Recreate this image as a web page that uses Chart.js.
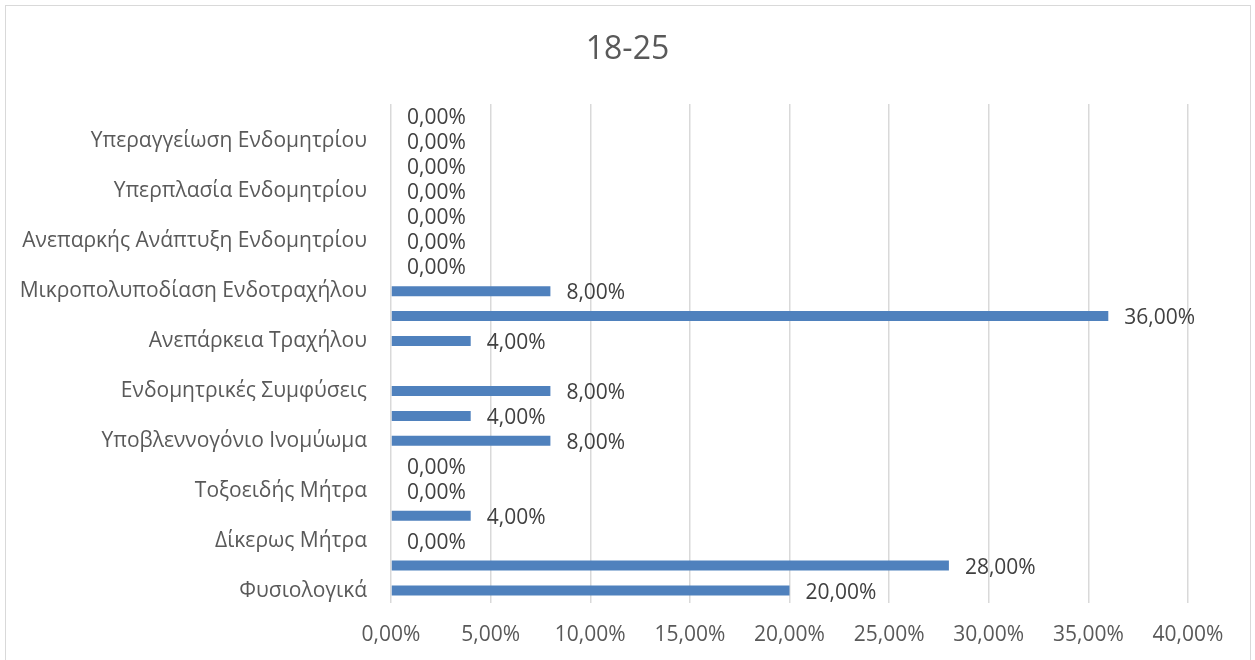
<!DOCTYPE html>
<html>
<head>
<meta charset="utf-8">
<script src="https://cdn.jsdelivr.net/npm/chart.js@4.4.1/dist/chart.umd.min.js"></script>
<style>
    html, body { margin: 0; padding: 0; background: #fff; }
    #wrap { position: relative; width: 1255px; height: 660px; }
    #frame {
        position: absolute; left: 5px; top: 5px; width: 1246px; height: 660px;
        border: 1px solid #d9d9d9; box-sizing: border-box;
    }
    canvas { position: absolute; left: 0; top: 0; }
</style>
</head>
<body>
<div id="wrap">
    <div id="frame"></div>
    <canvas id="chart" width="1255" height="660"></canvas>
</div>
<script>
// categories top -> bottom (Excel skipped every other label, so those stay blank)
const categories = [
    "",
    "Υπεραγγείωση Ενδομητρίου",
    "",
    "Υπερπλασία Ενδομητρίου",
    "",
    "Ανεπαρκής Ανάπτυξη Ενδομητρίου",
    "",
    "Μικροπολυποδίαση Ενδοτραχήλου",
    "",
    "Ανεπάρκεια Τραχήλου",
    "",
    "Ενδομητρικές Συμφύσεις",
    "",
    "Υποβλεννογόνιο Ινομύωμα",
    "",
    "Τοξοειδής Μήτρα",
    "",
    "Δίκερως Μήτρα",
    "",
    "Φυσιολογικά"
];

// percentages
const values = [0, 0, 0, 0, 0, 0, 0, 8, 36, 4, null, 8, 4, 8, 0, 0, 4, 0, 28, 20];

const xTicks = [0, 5, 10, 15, 20, 25, 30, 35, 40];

const chartTitle = "18-25";

const FONT = "'Open Sans', 'Noto Sans', sans-serif";

function pct(v) {
    return v.toFixed(2).replace(".", ",") + "%";
}

// draw value labels next to bar ends
const barLabels = {
    id: "barLabels",
    afterDatasetsDraw(chart) {
        const ctx = chart.ctx;
        const meta = chart.getDatasetMeta(0);
        ctx.save();
        ctx.font = "21px " + FONT;
        ctx.fillStyle = "#404040";
        ctx.textAlign = "left";
        ctx.textBaseline = "middle";
        meta.data.forEach((bar, i) => {
            const v = values[i];
            if (v === null || v === undefined) return;
            ctx.fillText(pct(v), bar.x + 16, bar.y + 2);
        });
        ctx.restore();
    }
};

const ctx = document.getElementById("chart");

new Chart(ctx, {
    type: "bar",
    data: {
        labels: categories,
        datasets: [{
            data: values,
            backgroundColor: "#4F81BD",
            barThickness: 10,
            inflateAmount: 0
        }]
    },
    options: {
        indexAxis: "y",
        responsive: false,
        animation: false,
        plugins: {
            legend: { display: false },
            tooltip: { enabled: false },
            title: {
                display: true,
                text: chartTitle,
                color: "#595959",
                font: { family: FONT, size: 32, weight: "normal", lineHeight: 1.2 },
                padding: { top: 31, bottom: 34.6 }
            }
        },
        scales: {
            x: {
                min: 0,
                max: 40,
                afterBuildTicks: (scale) => {
                    scale.ticks = xTicks.map(v => ({ value: v }));
                },
                afterFit: (scale) => {
                    scale.height = 57;
                    scale.paddingRight = 67; // keep plot right edge at ~1188
                },
                grid: {
                    color: "#d9d9d9",
                    lineWidth: 1.5,
                    drawTicks: false
                },
                border: { display: false },
                ticks: {
                    color: "#595959",
                    font: { family: FONT, size: 21 },
                    padding: 19,
                    callback: (v) => pct(v)
                }
            },
            y: {
                afterFit: (scale) => { scale.width = 391; },
                grid: { display: false, drawTicks: false },
                border: { display: false },
                ticks: {
                    autoSkip: false,
                    color: "#595959",
                    font: { family: FONT, size: 21 },
                    padding: 24
                }
            }
        }
    },
    plugins: [barLabels]
});
</script>
</body>
</html>
